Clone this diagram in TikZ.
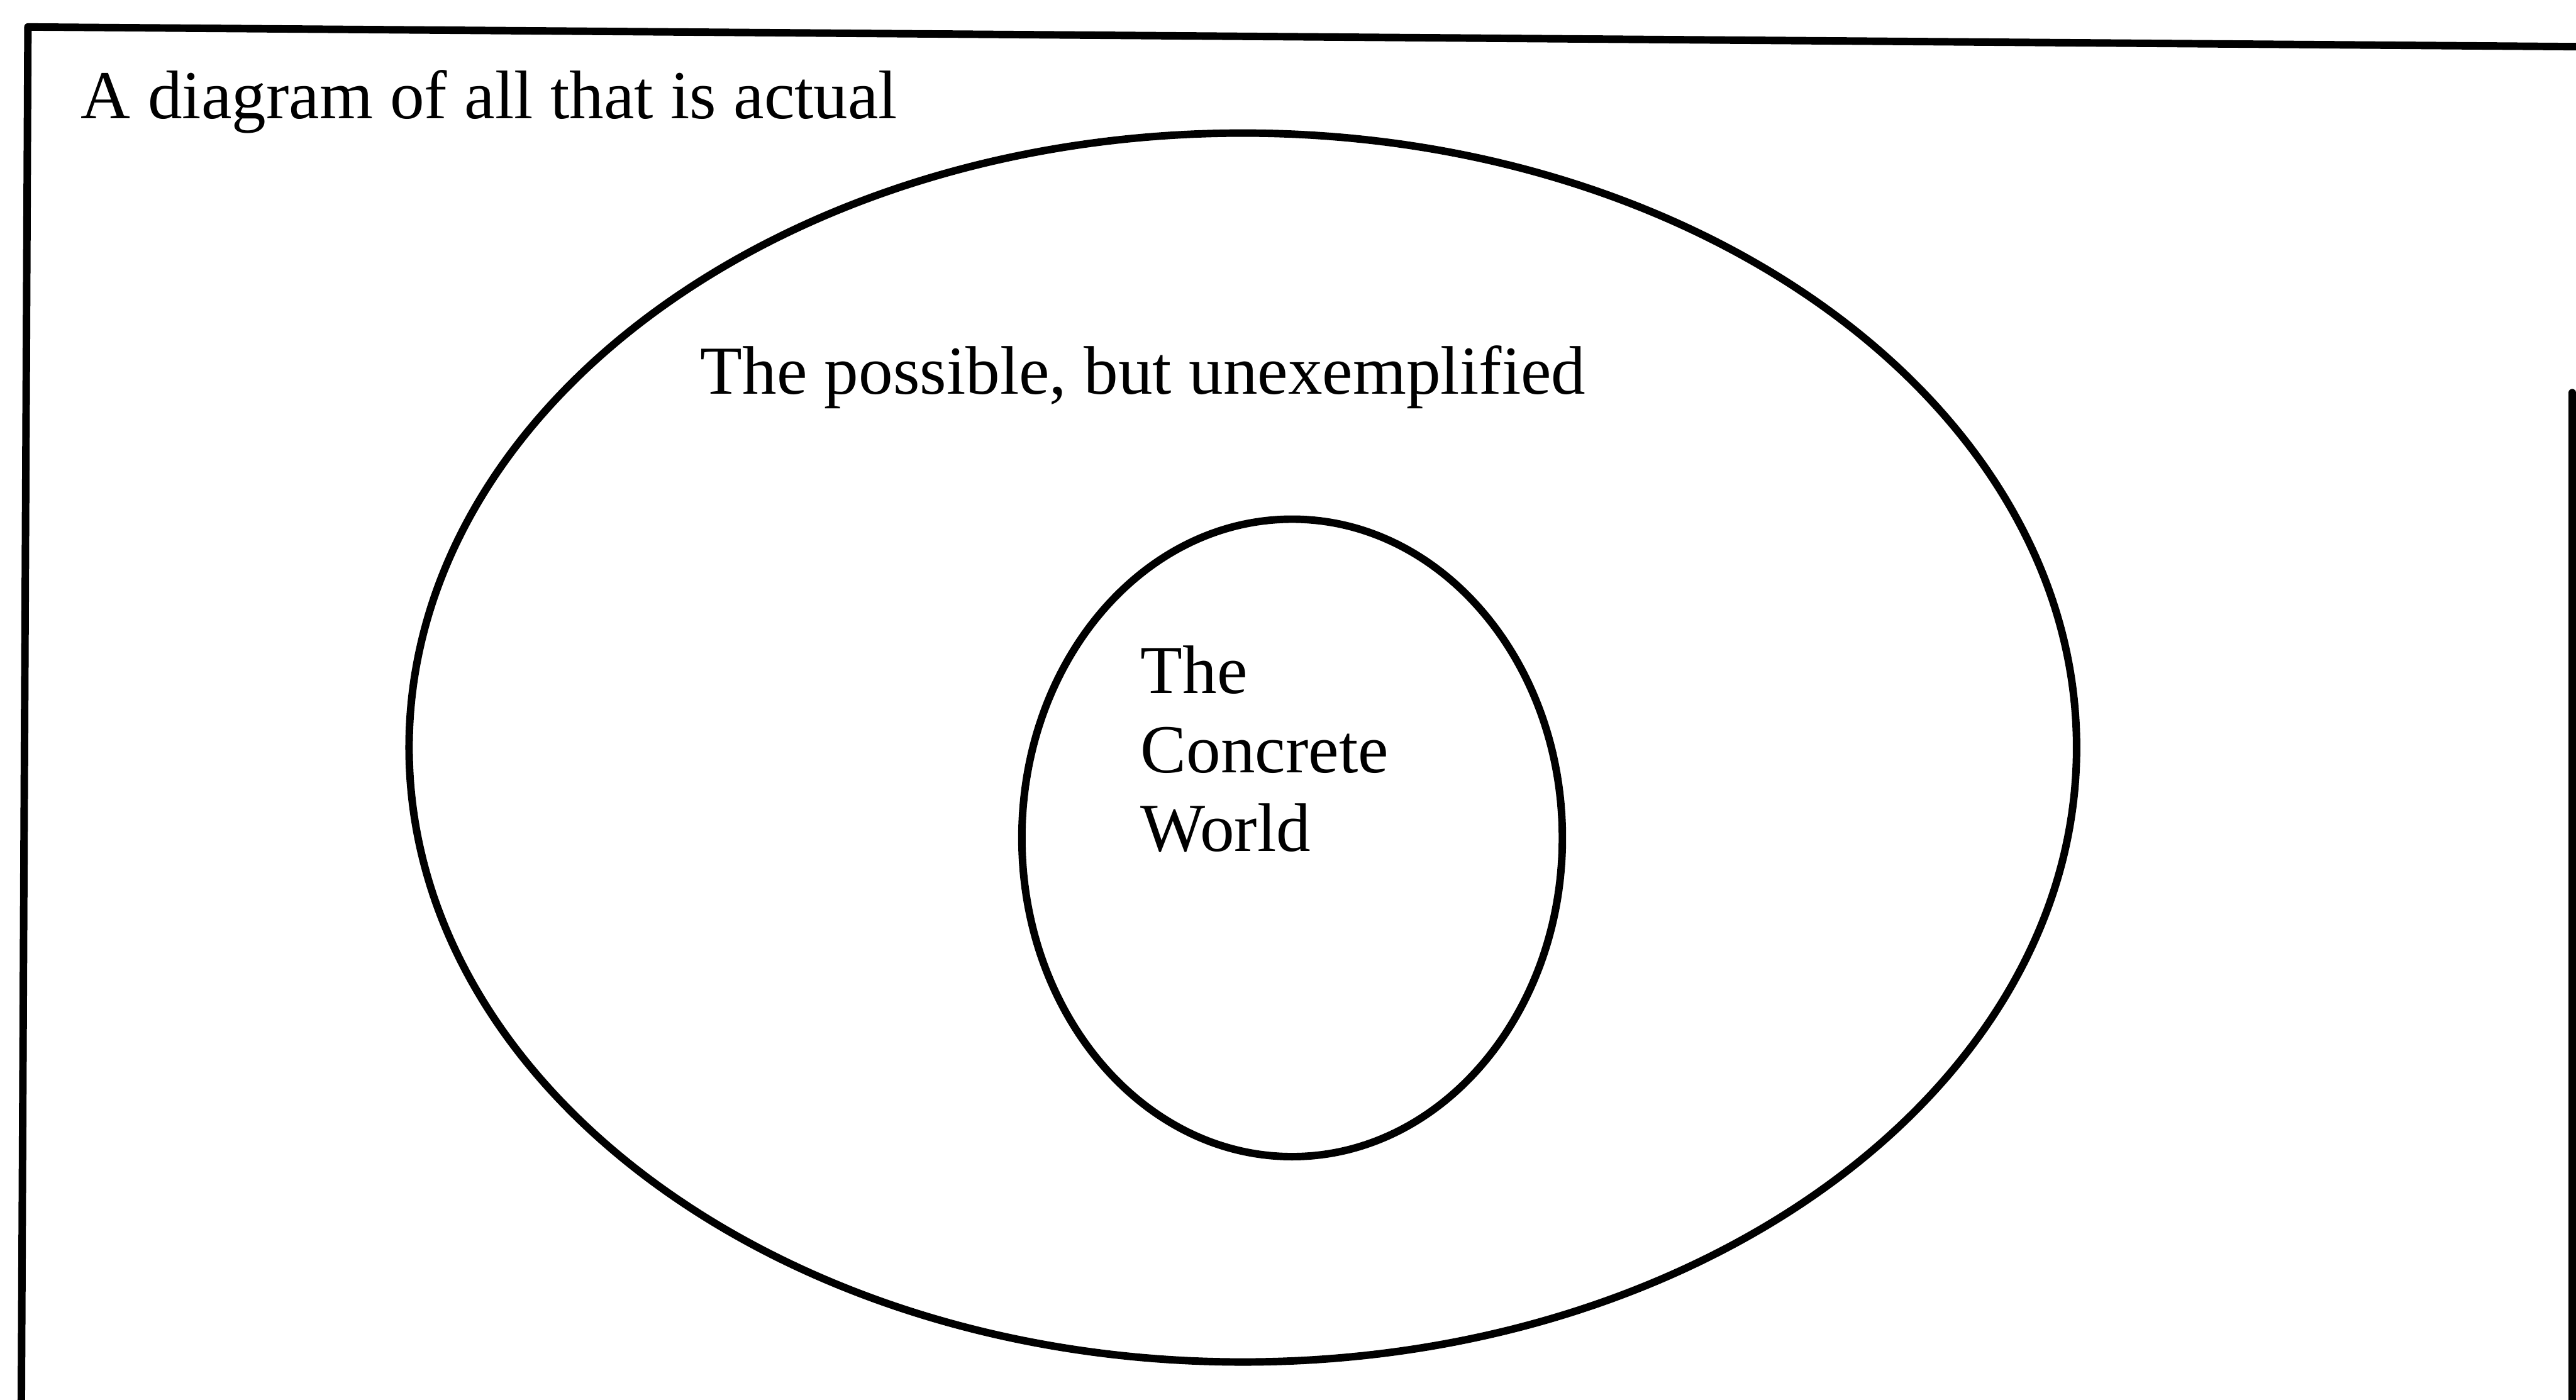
\documentclass[tikz,border=0pt]{standalone}
\usepackage{fontspec}
\setmainfont{Liberation Serif}
\usepackage{tikz}

\begin{document}
\begin{tikzpicture}[
    x=0.02cm,
    y=-0.02cm,
    line join=round,
    line cap=round,
    outline/.style={draw=black, line width=2.6pt},
    caption/.style={inner sep=0pt, anchor=base west,
      font=\fontsize{23.8}{27.4}\selectfont}
  ]
  % Size of the scanned page; the frame runs off its lower edge.
  \useasboundingbox (0,0) rectangle (1568,852);

  \coordinate (frame-top-left)     at (17,16.4);
  \coordinate (frame-top-right)    at (1568,28.4);
  \coordinate (frame-bottom-left)  at (13,852);
  \coordinate (frame-right-start)  at (1565.7,239);
  \coordinate (frame-bottom-right) at (1565.7,852);

  % The scan lost the top of the right edge, so it is drawn apart.
  \draw[outline] (frame-bottom-left) -- (frame-top-left) -- (frame-top-right);
  \draw[outline] (frame-right-start) -- (frame-bottom-right);

  % The two regions, one inside the other.
  \coordinate (outer-centre) at (756.5,455);
  \coordinate (inner-centre) at (786.5,510);
  \draw[outline] (outer-centre) ellipse [x radius=507.5, y radius=374];
  \draw[outline] (inner-centre) ellipse [x radius=164.5, y radius=194];

  \node[caption] (title) at (49,72) {A diagram of all that is actual};
  \node[caption] (possible-label) at (426,240)
    {The possible, but unexemplified};
  % base is the baseline of the last line here
  \node[caption, align=left] (concrete-label) at (694,518.3)
    {The\\Concrete\\World};
\end{tikzpicture}
\end{document}
